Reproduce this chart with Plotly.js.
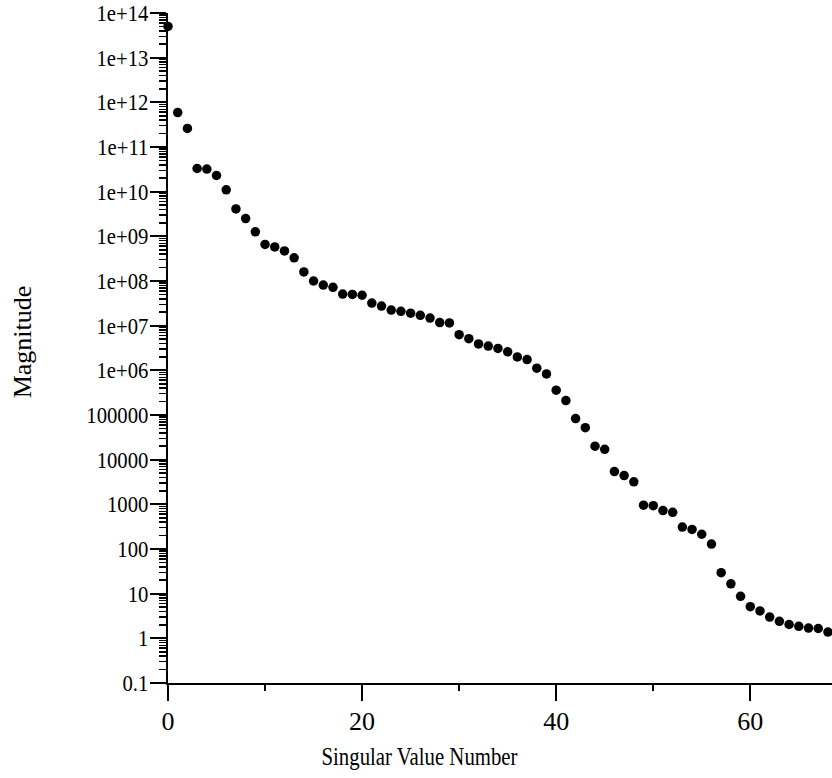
<!DOCTYPE html>
<html>
<head>
<meta charset="utf-8">
<script src="https://cdn.plot.ly/plotly-3.0.1.min.js"></script>
<style>html,body{margin:0;padding:0;background:#fff;}#chart{width:832px;height:778px;}</style>
</head>
<body>
<div id="chart"></div>
<script>
// Singular value index
const singularIndex = [];
for (let i = 0; i <= 68; i++) singularIndex.push(i);

// Magnitudes
const magnitude = [
  5.0e13, 5.9e11, 2.6e11, 3.3e10, 3.2e10, 2.3e10, 1.1e10, 4.1e9, 2.5e9, 1.26e9,
  6.6e8, 5.8e8, 4.7e8, 3.3e8, 1.6e8, 1.0e8, 8.1e7, 7.2e7, 5.1e7, 5.0e7,
  4.8e7, 3.2e7, 2.75e7, 2.24e7, 2.1e7, 1.9e7, 1.7e7, 1.48e7, 1.17e7, 1.15e7,
  6.3e6, 5.1e6, 3.9e6, 3.5e6, 3.1e6, 2.6e6, 2.0e6, 1.74e6, 1.12e6, 8.3e5,
  3.6e5, 2.1e5, 8.3e4, 5.2e4, 2.0e4, 1.7e4, 5.4e3, 4.4e3, 3.2e3, 955,
  933, 724, 661, 309, 275, 214, 129, 29.5, 16.6, 8.7,
  5.1, 4.1, 3.0, 2.4, 2.04, 1.86, 1.70, 1.66, 1.38
];

// Y axis tick values and labels
const yTickVals = [1e-1, 1, 10, 100, 1000, 1e4, 1e5, 1e6, 1e7, 1e8, 1e9, 1e10, 1e11, 1e12, 1e13, 1e14];
const yTickText = ["0.1", "1", "10", "100", "1000", "10000", "100000", "1e+06", "1e+07", "1e+08", "1e+09", "1e+10", "1e+11", "1e+12", "1e+13", "1e+14"];

// X axis ticks
const xTickVals = [0, 20, 40, 60];
const xTickText = ["0", "20", "40", "60"];

const FONT = "'Liberation Serif', 'Times New Roman', Times, serif";
const FS = 26;
const YFS = 23;

const trace = {
  x: singularIndex,
  y: magnitude,
  type: 'scatter',
  mode: 'markers',
  marker: {color: '#000', size: 9.5},
  cliponaxis: false,
  hoverinfo: 'x+y'
};

const layout = {
  width: 832,
  height: 778,
  margin: {l: 168, r: 0, t: 13, b: 95, pad: 0},
  paper_bgcolor: '#fff',
  plot_bgcolor: '#fff',
  showlegend: false,
  font: {family: FONT, size: FS, color: '#000'},
  xaxis: {
    range: [0, 68.42],
    showgrid: false,
    zeroline: false,
    showline: true,
    linecolor: '#000',
    linewidth: 2,
    ticks: 'outside',
    ticklen: 16,
    tickwidth: 2,
    tickcolor: '#000',
    tickmode: 'array',
    tickvals: xTickVals,
    ticktext: xTickText,
    ticklabeloverflow: 'allow',
    ticklabelstandoff: -2,
    tickfont: {family: FONT, size: FS, color: '#000'},
    minor: {ticks: 'outside', ticklen: 6, tickwidth: 2, tickcolor: '#000', dtick: 10, tick0: 0, showgrid: false}
  },
  yaxis: {
    type: 'log',
    range: [-1, 14],
    showgrid: false,
    zeroline: false,
    showline: true,
    linecolor: '#000',
    linewidth: 2,
    ticks: 'outside',
    ticklen: 16,
    tickwidth: 2,
    tickcolor: '#000',
    tickmode: 'array',
    tickvals: yTickVals,
    ticktext: yTickText,
    ticklabeloverflow: 'allow',
    ticklabelstandoff: -3,
    tickfont: {family: FONT, size: YFS, color: '#000'},
    minor: {ticks: 'outside', ticklen: 7, tickwidth: 1.5, tickcolor: '#000', dtick: 'D1', showgrid: false}
  },
  annotations: [
    {
      text: 'Singular Value Number',
      xref: 'paper', yref: 'paper',
      x: 0.3795, y: -0.110,
      xanchor: 'center', yanchor: 'middle',
      showarrow: false,
      font: {family: FONT, size: FS, color: '#000'}
    },
    {
      text: 'Magnitude',
      xref: 'paper', yref: 'paper',
      x: -0.2199, y: 0.51,
      xanchor: 'center', yanchor: 'middle',
      textangle: -90,
      showarrow: false,
      font: {family: FONT, size: FS, color: '#000'}
    }
  ]
};

function condense(el, factor) {
  const w = el.getComputedTextLength();
  el.setAttribute('textLength', (w * factor).toFixed(2));
  el.setAttribute('lengthAdjust', 'spacingAndGlyphs');
}

Plotly.newPlot('chart', [trace], layout, {displayModeBar: false, staticPlot: true}).then(function (gd) {
  gd.querySelectorAll('.ytick text').forEach(function (t) { condense(t, 0.9); });
  gd.querySelectorAll('.annotation-text').forEach(function (t) {
    if (t.textContent === 'Singular Value Number') condense(t, 0.8);
  });
});
</script>
</body>
</html>
